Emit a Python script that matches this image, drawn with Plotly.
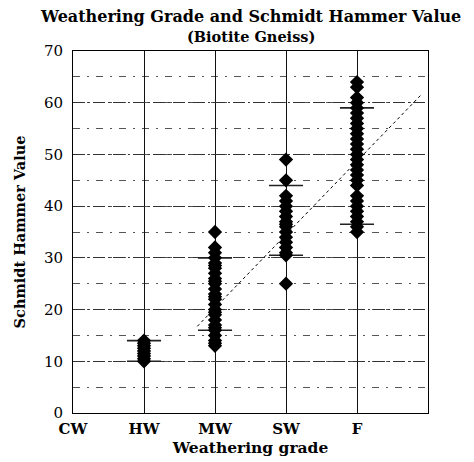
import plotly.graph_objects as go

# ---------------- data ----------------
grades = ["CW", "HW", "MW", "SW", "F"]
grade_pos = [0, 1, 2, 3, 4]

hw_values = [10, 10.5, 11, 11.5, 12, 12.5, 13, 13.5, 14]
mw_values = [13, 13.5, 14, 15, 16, 16.5, 17, 18, 19, 19.5, 20, 21, 22, 22.5, 23,
             24, 25, 25.5, 26, 27, 28, 28.5, 29, 30, 31, 32, 35]
sw_values = [25, 30.5, 31, 32, 33, 34, 35, 36, 36.5, 37, 38, 39, 40, 41, 42, 45, 49]
f_values = [35, 36, 37, 38, 39, 40, 41, 42, 44, 45, 46, 47, 48, 49, 50, 51, 52,
            53, 54, 55, 56, 57, 58, 59, 60, 61, 63, 64]

# mean -/+ standard deviation marks (HW, MW, SW, F)
sd_grades = ["HW", "MW", "SW", "F"]
sd_low = [10, 16, 30.5, 36.5]
sd_high = [14, 30, 44, 59]

# regression line: value = intercept + slope * grade index
reg_intercept = -8.1
reg_slope = 14.2
reg_x_range = [1.75, 4.92]

y_ticks = [0, 10, 20, 30, 40, 50, 60, 70]

title_line1 = "Weathering Grade and Schmidt Hammer Value"
title_line2 = "(Biotite Gneiss)"

FONT = "DejaVu Serif"

fig = go.Figure()

series = {"HW": hw_values, "MW": mw_values, "SW": sw_values, "F": f_values}

# regression (dotted)
reg_y = [reg_intercept + reg_slope * x for x in reg_x_range]
fig.add_trace(go.Scatter(x=reg_x_range, y=reg_y, mode="lines",
                         line=dict(color="black", width=1, dash="dot"),
                         showlegend=False, hoverinfo="skip"))

# sd marks
half = 0.24
for g, lo, hi in zip(sd_grades, sd_low, sd_high):
    xi = grades.index(g)
    for v in (lo, hi):
        fig.add_trace(go.Scatter(x=[xi - half, xi + half], y=[v, v], mode="lines",
                                 line=dict(color="#222", width=1.6),
                                 showlegend=False, hoverinfo="skip"))

# data points
for g, vals in series.items():
    xi = grades.index(g)
    fig.add_trace(go.Scatter(x=[xi] * len(vals), y=vals, mode="markers",
                             marker=dict(symbol="diamond", size=11, color="black",
                                         line=dict(width=0)),
                             showlegend=False))

# page body has an 8px margin, so the figure is sized to fit the window after it
fig.update_layout(
    width=466, height=454,
    margin=dict(l=65, r=46, t=43, b=49, autoexpand=False),
    paper_bgcolor="white", plot_bgcolor="white",
    font=dict(family=FONT, color="black"),
    annotations=[
        dict(text="<b>%s</b>" % title_line1, xref="paper", yref="paper",
             x=0.5, y=1, xanchor="center", yanchor="bottom", yshift=23,
             showarrow=False, font=dict(family=FONT, size=16)),
        dict(text="<b>%s</b>" % title_line2, xref="paper", yref="paper",
             x=0.5, y=1, xanchor="center", yanchor="bottom", yshift=4,
             showarrow=False, font=dict(family=FONT, size=14.5)),
    ],
)

fig.update_xaxes(
    range=[0, 5], tickvals=grade_pos, ticktext=["<b>%s</b>" % g for g in grades],
    tickfont=dict(family=FONT, size=15), ticks="", ticklabelstandoff=2,
    showgrid=True, gridcolor="#111", gridwidth=1.3,
    showline=True, linecolor="black", linewidth=1, mirror=True, zeroline=False,
    automargin=False,
    title=dict(text="<b>Weathering grade</b>", font=dict(family=FONT, size=15.5), standoff=5),
)
fig.update_yaxes(
    range=[0, 70], tickvals=y_ticks, tickfont=dict(family=FONT, size=15),
    ticks="", ticklabelstandoff=6, automargin=False,
    showgrid=True, gridcolor="#333", gridwidth=1, griddash="12px,3px,2px,3px",
    minor=dict(dtick=5, showgrid=True, gridcolor="#555", gridwidth=1,
               griddash="7px,7px,2px,7px"),
    showline=True, linecolor="black", linewidth=1, mirror=True, zeroline=False,
    title=dict(text="<b>Schmidt Hammer Value</b>", font=dict(family=FONT, size=14.5), standoff=14),
)

fig.write_html("out.html")
